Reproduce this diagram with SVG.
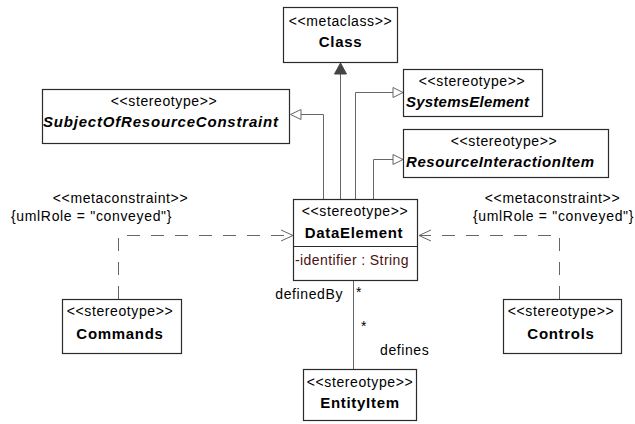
<svg xmlns="http://www.w3.org/2000/svg" width="635" height="424" viewBox="0 0 635 424">
<defs>
<style>
.box{fill:#fff;stroke:#2a2a2a;stroke-width:1.2}
.st{font-family:"Liberation Sans",Arial,sans-serif;font-size:14px;letter-spacing:0.6px;fill:#000;text-anchor:middle}
.nm{font-family:"Liberation Sans",Arial,sans-serif;font-size:15px;font-weight:bold;letter-spacing:0.7px;fill:#000;text-anchor:middle}
.it{font-family:"Liberation Sans",Arial,sans-serif;font-size:15px;font-weight:bold;font-style:italic;fill:#000}
.lb{font-family:"Liberation Sans",Arial,sans-serif;font-size:14px;letter-spacing:0.6px;fill:#000}
.attr{font-family:"Liberation Sans",Arial,sans-serif;font-size:14px;letter-spacing:0.4px;fill:#4a1010}
.ln{fill:none;stroke:#666;stroke-width:1}
.dash{fill:none;stroke:#666;stroke-width:1;stroke-dasharray:13,11}
.hollow{fill:#fff;stroke:#666;stroke-width:1}
.filled{fill:#444;stroke:#444;stroke-width:1}
</style>
</defs>
<g id="connectors">
<!-- generalizations / extension to Class -->
<path class="ln" d="M340.5,199 V74"/>
<polygon class="filled" points="340.5,63 334.5,74 346.5,74"/>
<path class="ln" d="M323.5,199 V114.5 H301"/>
<polygon class="hollow" points="290.5,114.5 301,109.5 301,119.5"/>
<path class="ln" d="M355.5,199 V92.5 H393"/>
<polygon class="hollow" points="403,92.5 393,87.5 393,97.5"/>
<path class="ln" d="M373.5,199 V159.5 H393"/>
<polygon class="hollow" points="403,159.5 393,154.5 393,164.5"/>
<!-- dependencies -->
<path class="dash" d="M118.5,299 V235.5 H292"/>
<path class="ln" d="M281,230 L293,235.5 L281,241"/>
<path class="dash" d="M559.5,299 V235.5 H419"/>
<path class="ln" d="M431,230 L419,235.5 L431,241"/>
<!-- association -->
<path class="ln" d="M353.5,281 V369"/>
<text class="lb" x="120.5" y="203" text-anchor="middle">&lt;&lt;metaconstraint&gt;&gt;</text>
<text class="lb" x="11" y="221" textLength="161" lengthAdjust="spacing">{umlRole = "conveyed"}</text>
<text class="lb" x="552.5" y="203" text-anchor="middle">&lt;&lt;metaconstraint&gt;&gt;</text>
<text class="lb" x="473" y="221" textLength="161" lengthAdjust="spacing">{umlRole = "conveyed"}</text>
<text class="lb" x="343" y="299" text-anchor="end">definedBy</text>
<text class="lb" x="356" y="297">*</text>
<text class="lb" x="361" y="331">*</text>
<text class="lb" x="380" y="355">defines</text>
</g>
<g id="Class">
<rect class="box" x="283.5" y="7.5" width="114" height="55"/>
<text class="st" x="340.5" y="26">&lt;&lt;metaclass&gt;&gt;</text>
<text class="nm" x="340.5" y="47">Class</text>
</g>
<g id="SubjectOfResourceConstraint">
<rect class="box" x="42.5" y="89.5" width="247" height="54"/>
<text class="st" x="164" y="106">&lt;&lt;stereotype&gt;&gt;</text>
<text class="it" x="43" y="127" textLength="235" lengthAdjust="spacing">SubjectOfResourceConstraint</text>
</g>
<g id="SystemsElement">
<rect class="box" x="403.5" y="69.5" width="139" height="47"/>
<text class="st" x="472" y="86">&lt;&lt;stereotype&gt;&gt;</text>
<text class="it" x="406" y="107" textLength="123" lengthAdjust="spacing">SystemsElement</text>
</g>
<g id="ResourceInteractionItem">
<rect class="box" x="403.5" y="129.5" width="205" height="48"/>
<text class="st" x="504" y="146">&lt;&lt;stereotype&gt;&gt;</text>
<text class="it" x="406" y="167" textLength="188" lengthAdjust="spacing">ResourceInteractionItem</text>
</g>
<g id="DataElement">
<rect class="box" x="293.5" y="199.5" width="124" height="81"/>
<line class="box" x1="293.5" y1="246.5" x2="417.5" y2="246.5"/>
<text class="st" x="355" y="216">&lt;&lt;stereotype&gt;&gt;</text>
<text class="nm" x="354" y="238">DataElement</text>
<text class="attr" x="295" y="265">-identifier : String</text>
</g>
<g id="Commands">
<rect class="box" x="62.5" y="299.5" width="119" height="54"/>
<text class="st" x="120" y="316">&lt;&lt;stereotype&gt;&gt;</text>
<text class="nm" x="120" y="339">Commands</text>
</g>
<g id="Controls">
<rect class="box" x="503.5" y="299.5" width="118" height="54"/>
<text class="st" x="561" y="316">&lt;&lt;stereotype&gt;&gt;</text>
<text class="nm" x="561" y="339">Controls</text>
</g>
<g id="EntityItem">
<rect class="box" x="303.5" y="369.5" width="113" height="51"/>
<text class="st" x="360" y="387">&lt;&lt;stereotype&gt;&gt;</text>
<text class="nm" x="360" y="408">EntityItem</text>
</g>
</svg>
